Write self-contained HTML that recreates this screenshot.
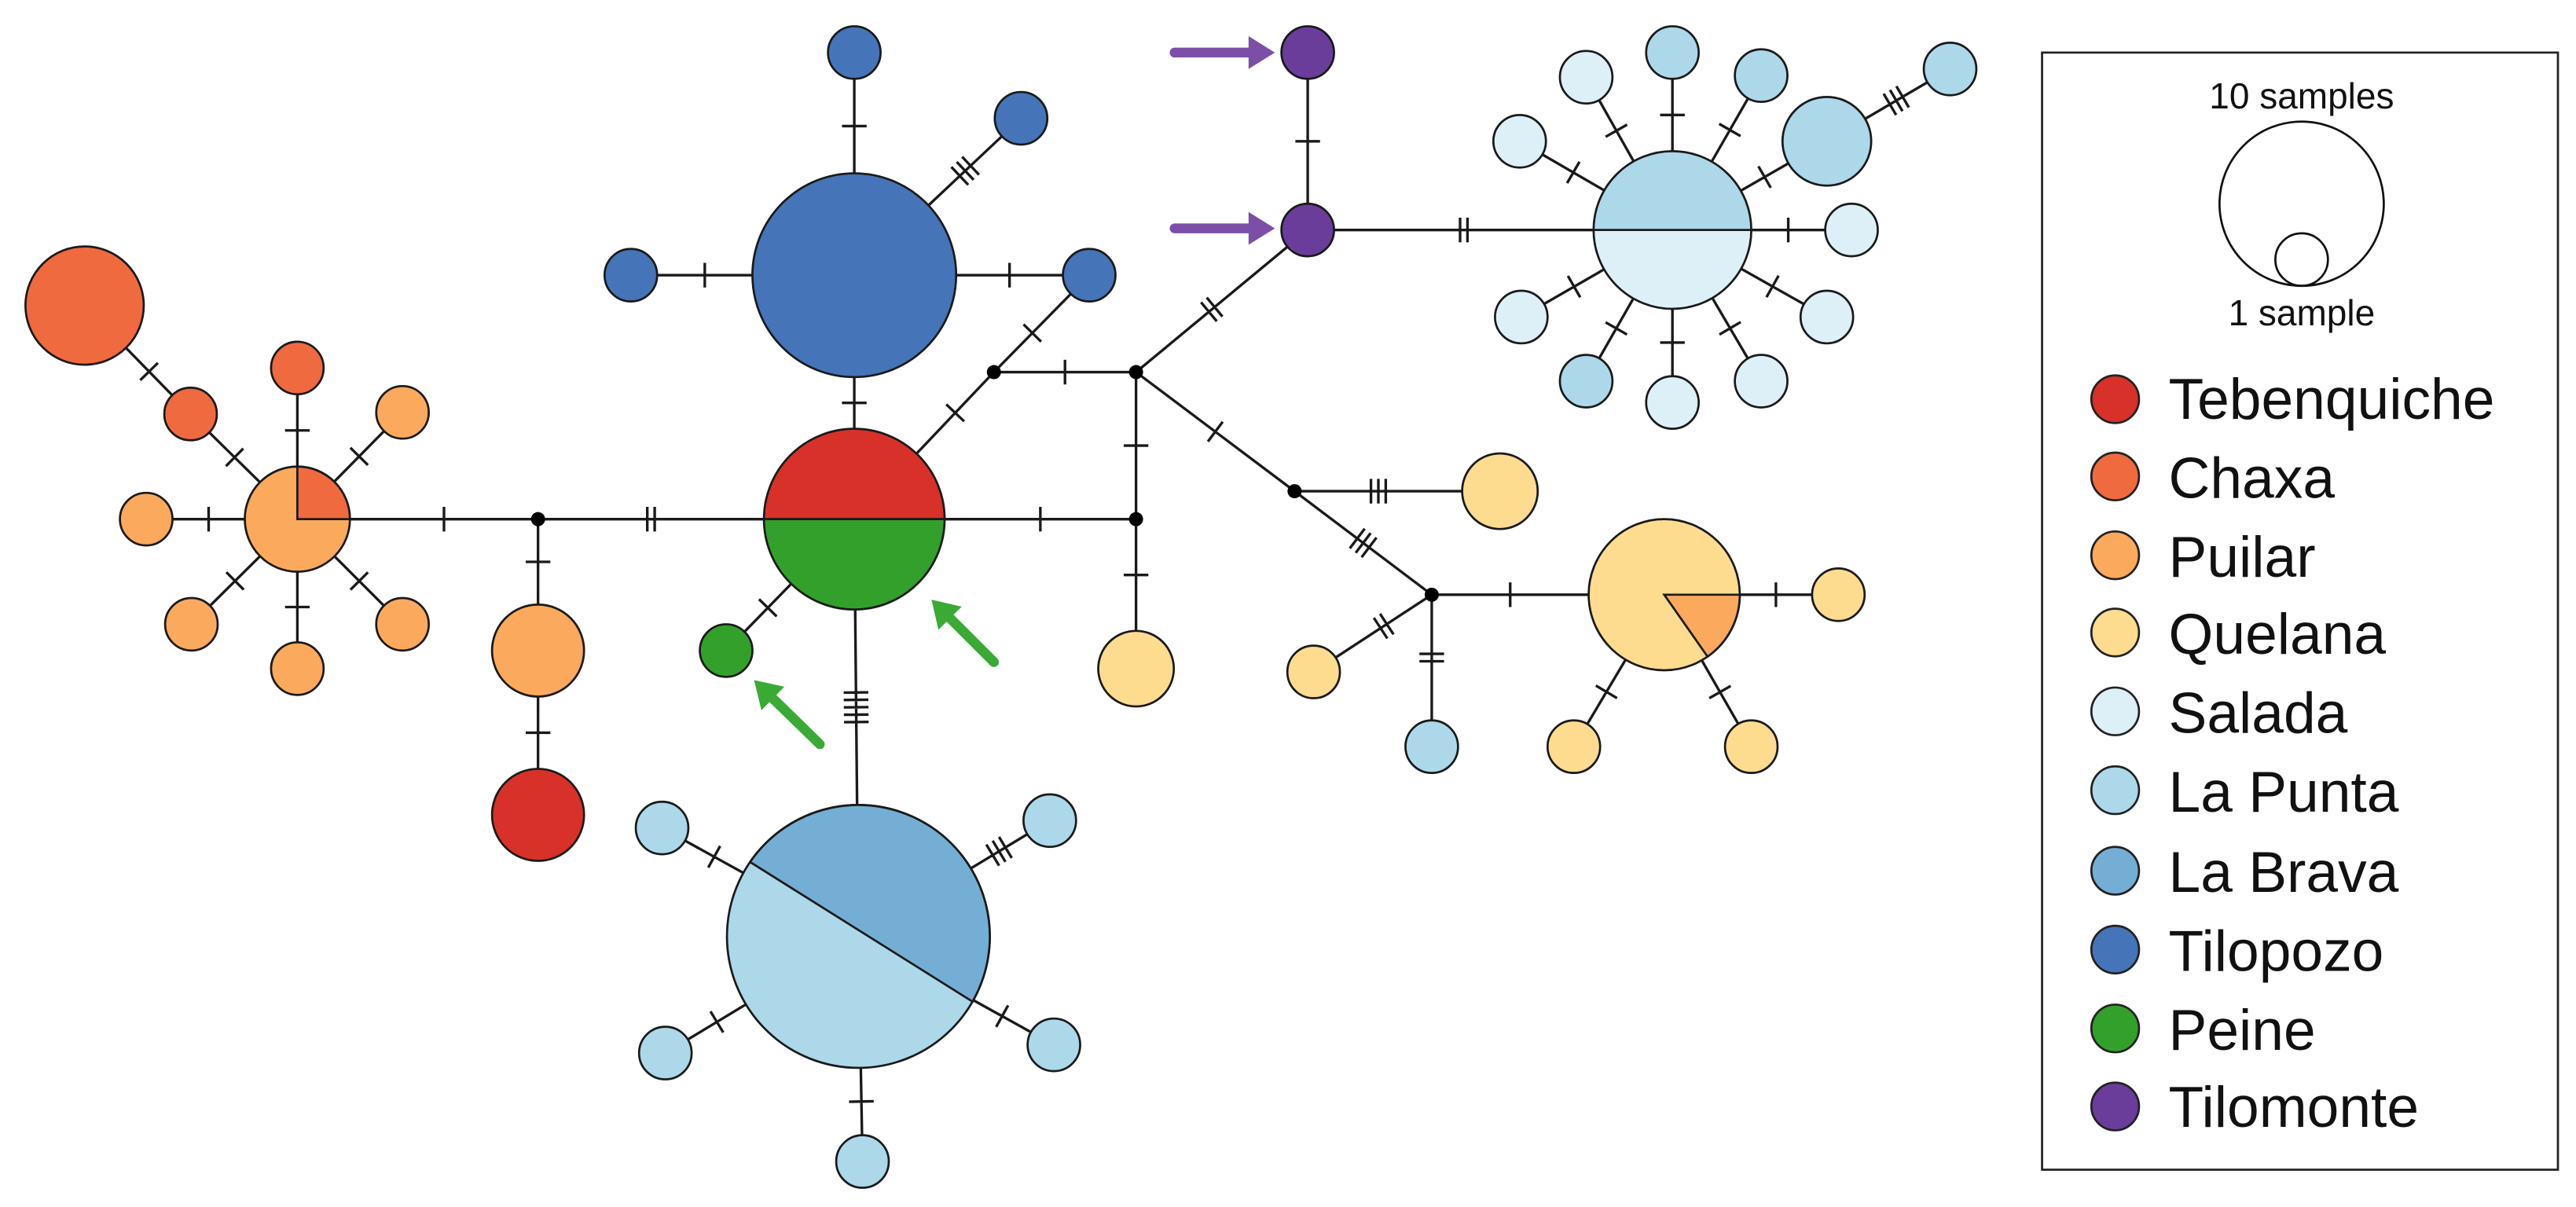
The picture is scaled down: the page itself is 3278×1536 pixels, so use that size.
<!DOCTYPE html>
<html><head><meta charset="utf-8"><style>
html,body{margin:0;padding:0;background:#fff;}
svg{display:block;}
text{font-family:"Liberation Sans",Arial,sans-serif;fill:#111;}
</style></head><body>
<svg id="s" width="3278" height="1536" viewBox="0 0 1568 734.7" preserveAspectRatio="none" xmlns="http://www.w3.org/2000/svg">
<g id="lines" stroke="#1a1a1a" stroke-width="1.6" fill="none"></g>
<g id="nodes" stroke="#1a1a1a" stroke-width="1.3"></g>
<g id="arrows"></g>
<rect x="1243" y="32" width="314" height="680" fill="none" stroke="#222" stroke-width="1.3"/>
<text x="1401" y="66" font-size="22" text-anchor="middle">10 samples</text>
<circle cx="1401" cy="124" r="50" fill="none" stroke="#111" stroke-width="1.3"/>
<circle cx="1401" cy="158" r="16" fill="none" stroke="#111" stroke-width="1.3"/>
<text x="1401" y="198" font-size="22" text-anchor="middle">1 sample</text>
<g id="legend" stroke="#222" stroke-width="1.3"></g>
<g font-size="35">
<text x="1320" y="255">Tebenquiche</text>
<text x="1320" y="303">Chaxa</text>
<text x="1320" y="351">Puilar</text>
<text x="1320" y="398">Quelana</text>
<text x="1320" y="446">Salada</text>
<text x="1320" y="494">La Punta</text>
<text x="1320" y="543">La Brava</text>
<text x="1320" y="591">Tilopozo</text>
<text x="1320" y="639">Peine</text>
<text x="1320" y="686">Tilomonte</text>
</g>
</svg>
<script>
const C={T:"#d7312a",Ch:"#f06a3f",P:"#fba95c",Q:"#fddc8f",S:"#ddf0f7",LP:"#acd8ea",LB:"#74aed4",TP:"#4574b8",Pe:"#33a02c",TM:"#6a3d9a"};
const N={
chB:[51.5,186,36,"Ch"],chS:[116,252,16,"Ch"],chT:[181,224,16,"Ch"],
pu:[181,316,32,"P"],p1:[245,251,16,"P"],p2:[89,316,16,"P"],p3:[116.5,380,16,"P"],p4:[181,407,16,"P"],p5:[245,380,16,"P"],
j1:[327.5,316,0],puM:[327.5,396,28,"P"],teb:[327.5,496,28,"T"],
cen:[520,316,55,"cen"],tpB:[520,167.5,62,"TP"],tp1:[520,32,16,"TP"],tp2:[621.5,72,16,"TP"],tp3:[384,167.5,16,"TP"],tp4:[663,167.5,16,"TP"],
pe:[442,396,16,"Pe"],j2:[605,226.5,0],j3:[691.5,226.5,0],j4:[691.5,316,0],q1:[691.5,407,23,"Q"],
lb:[522.5,570,80,"lb"],l1:[403,504,16,"LP"],l2:[639,499.5,16,"LP"],l3:[405,641,16,"LP"],l4:[641.5,636,16,"LP"],l5:[525,707,16,"LP"],
tm1:[796,32,16,"TM"],tm2:[796,140,16,"TM"],
sb:[1018,140,48,"sb"],s1:[1018,32,16,"LP"],s2:[965.5,47,16,"S"],s3:[1072,46,16,"LP"],s4:[1112,86,27,"LP"],s5:[1187,42,16,"LP"],
s6:[925,86,16,"S"],s7:[1127,140,16,"S"],s8:[926,193,16,"S"],s9:[1112,193,16,"S"],s10:[965.5,232,16,"LP"],s11:[1018,245,16,"S"],s12:[1072,232,16,"S"],
j5:[788,299,0],q2:[913,299,23,"Q"],j6:[871.5,362,0],qB:[1013,362,46,"qB"],q3:[1119,362,16,"Q"],q4:[799.6,409,16,"Q"],lp6:[871.5,454.5,16,"LP"],q5:[958,454.5,16,"Q"],q6:[1066,454.5,16,"Q"]};
const E=[["chB","chS",1],["chS","pu",1],["pu","chT",1],["pu","p1",1],["pu","p2",1],["pu","p3",1],["pu","p4",1],["pu","p5",1],
["pu","j1",1],["j1","puM",1],["puM","teb",1],["j1","cen",2],["cen","tpB",1],["tpB","tp1",1],["tpB","tp2",3],["tpB","tp3",1],["tpB","tp4",1],
["cen","pe",1],["cen","lb",5],["cen","j4",1],["cen","j2",1],["j2","tp4",1],["j2","j3",1],["j3","j4",1],["j4","q1",1],["j3","tm2",2],["j3","j5",1],
["j5","q2",3],["j5","j6",3],["j6","qB",1],["j6","q4",2],["j6","lp6",2],["qB","q3",1],["qB","q5",1],["qB","q6",1],["tm1","tm2",1],["tm2","sb",2],
["sb","s1",1],["sb","s2",1],["sb","s3",1],["sb","s4",1],["s4","s5",3],["sb","s6",1],["sb","s7",1],["sb","s8",1],["sb","s9",1],["sb","s10",1],["sb","s11",1],["sb","s12",1],
["lb","l1",1],["lb","l2",3],["lb","l3",1],["lb","l4",1],["lb","l5",1]];
const ns="http://www.w3.org/2000/svg";
function el(t,a,p){const e=document.createElementNS(ns,t);for(const k in a)e.setAttribute(k,a[k]);document.getElementById(p).appendChild(e);return e;}
let L="";
for(const [a,b,k] of E){const A=N[a],B=N[b];L+=`M${A[0]} ${A[1]}L${B[0]} ${B[1]}`;
 const dx=B[0]-A[0],dy=B[1]-A[1],d=Math.hypot(dx,dy),ux=dx/d,uy=dy/d;
 const s=A[2]+(d-A[2]-B[2])/2;const mx=A[0]+ux*s,my=A[1]+uy*s;const px=-uy,py=ux;
 for(let i=0;i<k;i++){const o=(i-(k-1)/2)*4.5;const cx=mx+ux*o,cy=my+uy*o;L+=`M${cx-px*7.5} ${cy-py*7.5}L${cx+px*7.5} ${cy+py*7.5}`;}}
el("path",{d:L},"lines");
el("path",{d:"M181 316V284",stroke:"#1a1a1a","stroke-width":1.6},"lines");
for(const k in N){const [x,y,r,c]=N[k];
 if(r===0){el("circle",{cx:x,cy:y,r:4.3,fill:"#000",stroke:"none"},"nodes");continue;}
 if(c==="cen"){el("path",{d:`M${x-r} ${y}A${r} ${r} 0 0 1 ${x+r} ${y}Z`,fill:C.T},"nodes");el("path",{d:`M${x-r} ${y}A${r} ${r} 0 0 0 ${x+r} ${y}Z`,fill:C.Pe},"nodes");continue;}
 if(c==="sb"){el("path",{d:`M${x-r} ${y}A${r} ${r} 0 0 1 ${x+r} ${y}Z`,fill:C.LP},"nodes");el("path",{d:`M${x-r} ${y}A${r} ${r} 0 0 0 ${x+r} ${y}Z`,fill:C.S},"nodes");continue;}
 if(c==="lb"){el("circle",{cx:x,cy:y,r:r,fill:C.LP},"nodes");
  const a1=Math.atan2(525-y,457-x),a2=Math.atan2(610-y,592.5-x);
  const X1=x+r*Math.cos(a1),Y1=y+r*Math.sin(a1),X2=x+r*Math.cos(a2),Y2=y+r*Math.sin(a2);
  el("path",{d:`M${X1} ${Y1}L${X2} ${Y2}A${r} ${r} 0 0 0 ${X1} ${Y1}Z`,fill:C.LB},"nodes");continue;}
 if(c==="qB"){el("circle",{cx:x,cy:y,r:r,fill:C.Q},"nodes");const a=55*Math.PI/180;
  el("path",{d:`M${x} ${y}L${x+r} ${y}A${r} ${r} 0 0 1 ${x+r*Math.cos(a)} ${y+r*Math.sin(a)}Z`,fill:C.P},"nodes");continue;}
 el("circle",{cx:x,cy:y,r:r,fill:C[c]},"nodes");
 if(k==="pu"){el("path",{d:`M${x} ${y}L${x} ${y-r}A${r} ${r} 0 0 1 ${x+r} ${y}Z`,fill:C.Ch},"nodes");}
}
const lc=["T","Ch","P","Q","S","LP","LB","TP","Pe","TM"],ly=[243,290,338,385,433,481,530,578,626,673.5];
lc.forEach((c,i)=>el("circle",{cx:1287.5,cy:ly[i],r:14.5,fill:C[c]},"legend"));
function arrow(x1,y1,x2,y2,col){const dx=x2-x1,dy=y2-y1,d=Math.hypot(dx,dy),ux=dx/d,uy=dy/d,px=-uy,py=ux,h=16,w=10;
 const bx=x2-ux*h,by=y2-uy*h;
 el("line",{x1:x1,y1:y1,x2:bx+ux*2,y2:by+uy*2,stroke:col,"stroke-width":6,"stroke-linecap":"round"},"arrows");
 el("path",{d:`M${x2} ${y2}L${bx+px*w} ${by+py*w}L${bx-px*w} ${by-py*w}Z`,fill:col},"arrows");}
arrow(605,403,567,365,"#3aaa35");arrow(499,453,459,414,"#3aaa35");
arrow(715,32,776,32,"#7b4fa8");arrow(715,139,776,139,"#7b4fa8");
</script>
</body></html>
